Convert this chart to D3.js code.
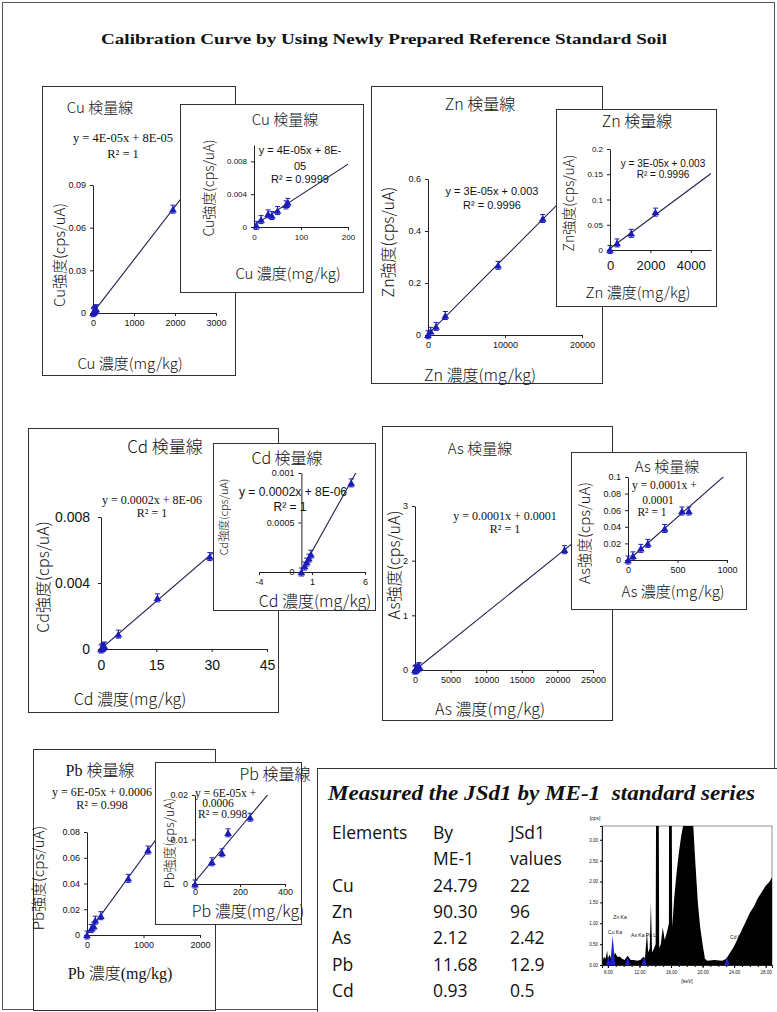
<!DOCTYPE html>
<html>
<head>
<meta charset="utf-8">
<script src="https://cdn.jsdelivr.net/npm/d3@7"></script>
<style>
  body { margin: 0; background: #fff; }
  svg text { fill: #111; }
</style>
</head>
<body>
<svg id="fig" width="777" height="1012"></svg>
<script>
// calibration data (concentration mg/kg, intensity cps/uA)
const cuConc = [5, 15, 30, 38, 50, 68, 72, 1950]
const cuInt = [0.0002, 0.0009, 0.0016, 0.0014, 0.002, 0.0027, 0.003, 0.073]
const znConc = [0, 350, 1050, 2250, 9100, 14900]
const znInt = [0.001, 0.014, 0.033, 0.075, 0.268, 0.448]
const cdConc = [0, 0.3, 0.5, 0.7, 0.9, 4.7, 15.3, 29.5]
const cdInt = [0, 0.00006, 0.0001, 0.00014, 0.00018, 0.0009, 0.0031, 0.0056]
const asConc = [0, 50, 130, 200, 370, 545, 615, 21000]
const asInt = [0, 0.005, 0.014, 0.02, 0.038, 0.059, 0.059, 2.2]
const pbConc = [0, 75, 120, 147, 245, 730, 1080]
const pbInt = [0, 0.005, 0.007, 0.0115, 0.015, 0.044, 0.066]

// JSd1 table
const tableHead = [["Elements", "By", "JSd1"], ["", "ME-1", "values"]]
const tableElements = ["Cu", "Zn", "As", "Pb", "Cd"]
const byME1 = ["24.79", "90.30", "2.12", "11.68", "0.93"]
const jsd1Values = ["22", "96", "2.42", "12.9", "0.5"]

// XRF spectrum envelope (keV, cps)
const specKeV = [7.25, 7.32, 7.5, 7.7, 7.9, 8.0, 8.2, 8.4, 8.6, 8.7, 8.9, 9.2, 9.5, 9.8, 10.1, 10.5, 10.9, 11.3, 11.7, 12.1, 12.5, 12.7, 12.95, 13.1, 13.3, 13.45, 13.6, 13.85, 14.05, 14.1, 14.45, 14.5, 14.7, 14.95, 15.2, 15.5, 15.73, 15.75, 16.1, 16.15, 16.4, 16.7, 17.0, 17.3, 17.6, 18.8, 19.1, 19.4, 19.7, 20.0, 20.3, 20.6, 21.5, 22.5, 23.0, 23.5, 24.0, 24.5, 25.0, 25.5, 26.0, 26.5, 27.0, 27.5, 28.0, 28.5, 28.8]
const specCps = [0.65, 0.1, 0.2, 0.15, 0.35, 0.15, 0.25, 0.15, 0.3, 0.2, 0.3, 0.2, 0.2, 0.15, 0.12, 0.22, 0.12, 0.12, 0.1, 0.12, 0.2, 0.15, 0.8, 0.3, 0.4, 1.5, 0.3, 0.4, 0.5, 3.4, 3.4, 0.4, 0.5, 0.9, 0.6, 0.8, 1.0, 3.4, 3.4, 0.9, 1.6, 2.2, 2.7, 3.1, 3.4, 3.4, 2.4, 1.5, 0.9, 0.5, 0.15, 0.1, 0.12, 0.1, 0.15, 0.3, 0.45, 0.65, 0.85, 1.05, 1.25, 1.4, 1.6, 1.75, 1.9, 2.0, 2.1]
const lineKeV = [8.05, 8.6, 10.5, 12.6, 23.1]
const lineCps = [0.18, 0.7, 0.2, 0.2, 0.2]
const lineNames = ["Cu Ka", "Zn Ka", "As Ka Pb Lb", "", "Cd Ka"]
const specYTicks = [0, 0.5, 1, 1.5, 2, 2.5, 3]
const specXTicks = [8, 12, 16, 20, 24, 28]

const JP = '"Noto Sans CJK JP", "Liberation Sans", sans-serif'
const JPSERIF = '"Liberation Serif", "Noto Sans CJK JP", serif'
const SANS = '"Liberation Sans", Arial, sans-serif'
const SERIF = '"Liberation Serif", "Times New Roman", serif'
const markColor = "#1c1cb8"
const lineColor = "#20204a"

var svg = d3.select("#fig")
var clipCount = 0

svg.append("rect")
    .attr("x", 2.5).attr("y", 2.5)
    .attr("width", 772).attr("height", 1007)
    .attr("fill", "none").attr("stroke", "#555")

svg.append("text")
    .text("Calibration Curve by Using Newly Prepared Reference Standard Soil")
    .attr("x", 384).attr("y", 44)
    .attr("text-anchor", "middle")
    .style("font-family", SERIF).style("font-weight", "bold").style("font-size", "15.5px")
    .attr("textLength", 566).attr("lengthAdjust", "spacingAndGlyphs")

var fitLine = function (xs, ys) {
    const mx = d3.mean(xs), my = d3.mean(ys)
    let sxy = 0, sxx = 0
    xs.forEach(function (v, i) {
        sxy += (v - mx) * (ys[i] - my)
        sxx += (v - mx) * (v - mx)
    })
    const a = sxy / sxx
    return { a: a, b: my - a * mx }
}

var addText = function (g, t, x, y, size, family, rotate, anchor, weight) {
    const tx = g.append("text")
        .text(t)
        .style("font-size", size + "px")
        .style("font-family", family)
        .style("font-weight", weight || 400)
        .attr("text-anchor", anchor || "middle")
        .attr("dominant-baseline", "central")
    if (rotate) {
        tx.attr("transform", "translate(" + x + "," + y + ") rotate(-90)")
    } else {
        tx.attr("x", x).attr("y", y)
    }
    return tx
}

function drawChart(c) {
    const g = svg.append("g")

    g.append("rect")
        .attr("x", c.box[0] + .5).attr("y", c.box[1] + .5)
        .attr("width", c.box[2]).attr("height", c.box[3])
        .attr("fill", "#fff").attr("stroke", "#333")

    const x = d3.scaleLinear().domain(c.xDomain).range([c.plot[0], c.plot[1]])
    const y = d3.scaleLinear().domain(c.yDomain).range([c.plot[2], c.plot[3]])

    const id = "clip" + (clipCount++)
    g.append("clipPath").attr("id", id)
        .append("rect")
        .attr("x", c.plot[0]).attr("y", c.plot[3])
        .attr("width", c.plot[1] - c.plot[0]).attr("height", c.plot[2] - c.plot[3])

    const xa = g.append("g")
        .attr("transform", "translate(0," + y(0) + ")")
        .call(d3.axisBottom(x).tickValues(c.xTicks).tickSizeInner(3).tickSizeOuter(0)
            .tickPadding(c.xPad || 4).tickFormat(function (d) { return String(d) }))
    const ya = g.append("g")
        .attr("transform", "translate(" + x(0) + ",0)")
        .call(d3.axisLeft(y).tickValues(c.yTicks).tickSizeInner(3).tickSizeOuter(0)
            .tickPadding(c.yPad || 4).tickFormat(function (d) { return String(d) }))
    xa.attr("font-size", c.xFont).attr("font-family", SANS)
    ya.attr("font-size", c.yFont).attr("font-family", SANS)
    g.selectAll(".domain, .tick line").attr("stroke", "#222")
    g.selectAll(".tick text").attr("fill", "#111")

    // linear trendline, fitted on the whole series
    const f = fitLine(c.xs, c.ys)
    const x0 = Math.max(0, c.xDomain[0])
    const x1 = c.xDomain[1]
    g.append("line")
        .attr("clip-path", "url(#" + id + ")")
        .attr("x1", x(x0)).attr("y1", y(f.a * x0 + f.b))
        .attr("x2", x(x1)).attr("y2", y(f.a * x1 + f.b))
        .attr("stroke", lineColor).attr("stroke-width", 1.1)

    const pts = c.xs.map(function (v, i) { return [v, c.ys[i]] })
        .filter(function (p) {
            return p[0] >= c.xDomain[0] && p[0] <= c.xDomain[1] && p[1] <= c.yDomain[1]
        })
    const mk = g.append("g")
    pts.forEach(function (p) {
        const px = x(p[0]), py = y(p[1])
        mk.append("path")
            .attr("d", "M" + px + "," + (py - 4) + "V" + (py + 4)
                + "M" + (px - 2.5) + "," + (py - 4) + "H" + (px + 2.5)
                + "M" + (px - 2.5) + "," + (py + 4) + "H" + (px + 2.5))
            .attr("stroke", markColor).attr("stroke-width", 1)
        mk.append("path")
            .attr("d", d3.symbol(d3.symbolTriangle, 26)())
            .attr("transform", "translate(" + px + "," + (py + 1) + ")")
            .attr("fill", markColor)
    })

    const tf = c.labelFamily || JP
    addText(g, c.title[0], c.title[1], c.title[2], c.title[3], tf, false, null, 300)
    addText(g, c.ylab[0], c.ylab[1], c.ylab[2], c.ylab[3], JP, true, null, 300)
    addText(g, c.xlab[0], c.xlab[1], c.xlab[2], c.xlab[3], tf, false, null, 300)
    c.eq.lines.forEach(function (l) {
        addText(g, l[0], l[1], l[2], c.eq.size, c.eq.serif ? SERIF : SANS, false, l[3])
    })
}

// Cu
drawChart({
    box: [42, 86, 193, 289], plot: [93, 216, 313, 185],
    xDomain: [0, 3000], yDomain: [0, 0.09], xTicks: [0, 1000, 2000, 3000], yTicks: [0, 0.03, 0.06, 0.09],
    xFont: 9, yFont: 9, xs: cuConc, ys: cuInt,
    title: ["Cu 検量線", 100, 106, 15], ylab: ["Cu強度(cps/uA)", 58, 255, 15], xlab: ["Cu 濃度(mg/kg)", 130, 362, 15],
    eq: { size: 12.5, serif: true, lines: [["y = 4E-05x  + 8E-05", 123, 138], ["R² = 1", 123, 154]] }
})
drawChart({
    box: [180, 104, 183, 188], plot: [254, 348, 227, 145],
    xDomain: [0, 200], yDomain: [0, 0.01], xTicks: [0, 100, 200], yTicks: [0, 0.004, 0.008],
    xFont: 8, yFont: 8, xs: cuConc, ys: cuInt,
    title: ["Cu 検量線", 285, 118, 15], ylab: ["Cu強度(cps/uA)", 208, 188, 14], xlab: ["Cu 濃度(mg/kg)", 288, 272, 15],
    eq: { size: 11, serif: false, lines: [["y = 4E-05x + 8E-", 300, 150], ["05", 300, 166], ["R² = 0.9999", 300, 179]] }
})

// Zn
drawChart({
    box: [371, 86, 231, 297], plot: [428, 582, 335, 179],
    xDomain: [0, 20000], yDomain: [0, 0.6], xTicks: [0, 10000, 20000], yTicks: [0, 0.2, 0.4, 0.6],
    xFont: 9, yFont: 9, xs: znConc, ys: znInt,
    title: ["Zn 検量線", 480, 103, 16], ylab: ["Zn強度(cps/uA)", 387, 242, 16], xlab: ["Zn 濃度(mg/kg)", 480, 374, 16],
    eq: { size: 11, serif: false, lines: [["y = 3E-05x + 0.003", 492, 191], ["R² = 0.9996", 492, 205]] }
})
drawChart({
    box: [556, 109, 160, 197], plot: [610, 711, 250, 149],
    xDomain: [0, 5000], yDomain: [0, 0.2], xTicks: [0, 2000, 4000], yTicks: [0, 0.05, 0.1, 0.15, 0.2],
    xFont: 13, yFont: 8, xs: znConc, ys: znInt, xPad: 8,
    title: ["Zn 検量線", 637, 120, 16], ylab: ["Zn強度(cps/uA)", 568, 203, 14], xlab: ["Zn 濃度(mg/kg)", 638, 291, 15],
    eq: { size: 10, serif: false, lines: [["y = 3E-05x + 0.003", 663, 163], ["R² = 0.9996", 663, 174]] }
})

// Cd
drawChart({
    box: [28, 428, 250, 284], plot: [101, 267, 649, 517],
    xDomain: [0, 45], yDomain: [0, 0.008], xTicks: [0, 15, 30, 45], yTicks: [0, 0.004, 0.008],
    xFont: 14, yFont: 14, xs: cdConc, ys: cdInt, xPad: 8, yPad: 8,
    title: ["Cd 検量線", 165, 445, 17], ylab: ["Cd強度(cps/uA)", 42, 577, 16], xlab: ["Cd 濃度(mg/kg)", 130, 698, 16],
    eq: { size: 12, serif: true, lines: [["y = 0.0002x + 8E-06", 152, 500], ["R² = 1", 152, 513]] }
})
drawChart({
    box: [213, 443, 162, 167], plot: [259, 365, 572, 473],
    xDomain: [-4, 6], yDomain: [0, 0.001], xTicks: [-4, 1, 6], yTicks: [0, 0.0005, 0.001],
    xFont: 9, yFont: 9, xs: cdConc, ys: cdInt,
    title: ["Cd 検量線", 287, 457, 16], ylab: ["Cd強度(cps/uA)", 223, 517, 11], xlab: ["Cd 濃度(mg/kg)", 315, 600, 16],
    eq: { size: 12, serif: false, lines: [["y = 0.0002x + 8E-06", 293, 492], ["R² = 1", 290, 507]] }
})

// As
drawChart({
    box: [382, 426, 230, 294], plot: [415, 593, 670, 506],
    xDomain: [0, 25000], yDomain: [0, 3], xTicks: [0, 5000, 10000, 15000, 20000, 25000], yTicks: [0, 1, 2, 3],
    xFont: 9, yFont: 9, xs: asConc, ys: asInt,
    title: ["As 検量線", 480, 447, 15], ylab: ["As強度(cps/uA)", 393, 565, 16], xlab: ["As 濃度(mg/kg)", 490, 708, 16],
    eq: { size: 12, serif: true, lines: [["y = 0.0001x + 0.0001", 505, 515.5], ["R² = 1", 505, 529]] }
})
drawChart({
    box: [571, 452, 175, 157], plot: [628, 727, 560, 477],
    xDomain: [0, 1000], yDomain: [0, 0.1], xTicks: [0, 500, 1000], yTicks: [0, 0.02, 0.04, 0.06, 0.08, 0.1],
    xFont: 9, yFont: 9, xs: asConc, ys: asInt,
    title: ["As 検量線", 667, 465, 15], ylab: ["As強度(cps/uA)", 583, 533, 15], xlab: ["As 濃度(mg/kg)", 673, 590, 15],
    eq: { size: 11.5, serif: true, lines: [["y = 0.0001x +", 632, 485, "start"], ["0.0001", 658, 500], ["R² = 1", 652, 512]] }
})

// Pb
drawChart({
    box: [33, 749, 182, 261], plot: [87, 200, 935, 832],
    xDomain: [0, 2000], yDomain: [0, 0.08], xTicks: [0, 1000, 2000], yTicks: [0, 0.02, 0.04, 0.06, 0.08],
    xFont: 9, yFont: 9, xs: pbConc, ys: pbInt, labelFamily: JPSERIF,
    title: ["Pb 検量線", 100, 770, 16], ylab: ["Pb強度(cps/uA)", 37, 878, 15], xlab: ["Pb 濃度(mg/kg)", 120, 973, 16],
    eq: { size: 12, serif: true, lines: [["y = 6E-05x + 0.0006", 102, 792], ["R² = 0.998", 102, 805]] }
})
drawChart({
    box: [155, 762, 146, 162], plot: [195, 285, 884, 795],
    xDomain: [0, 400], yDomain: [0, 0.02], xTicks: [0, 200, 400], yTicks: [0, 0.01, 0.02],
    xFont: 9, yFont: 9, xs: pbConc, ys: pbInt, xPad: 2,
    title: ["Pb 検量線", 275, 773, 16], ylab: ["Pb強度(cps/uA)", 168, 843, 13], xlab: ["Pb 濃度(mg/kg)", 248, 910, 16],
    eq: { size: 11.5, serif: true, lines: [["y = 6E-05x +", 195, 793, "start"], ["0.0006", 218, 803], ["R² = 0.998", 198, 814, "start"]] }
})

// table of JSd1 results
var tg = svg.append("g")
tg.append("rect")
    .attr("x", 317.5).attr("y", 768.5).attr("width", 470).attr("height", 250)
    .attr("fill", "#fff").attr("stroke", "#333")
tg.append("text")
    .text("Measured the JSd1 by ME-1\u00a0 standard series")
    .attr("x", 328).attr("y", 800)
    .style("font-family", SERIF).style("font-weight", "bold").style("font-style", "italic")
    .style("font-size", "21px")
    .attr("textLength", 427).attr("lengthAdjust", "spacingAndGlyphs")

const colX = [332, 433, 510]
const TFONT = '"Open Sans", Lato, sans-serif'
tableHead.concat(tableElements.map(function (e, i) { return [e, byME1[i], jsd1Values[i]] }))
    .forEach(function (row, r) {
        row.forEach(function (cell, k) {
            tg.append("text")
                .text(cell)
                .attr("x", colX[k]).attr("y", 839 + r * 26.3)
                .style("font-family", TFONT).style("font-size", "17.5px")
        })
    })

// XRF spectrum
var sg = svg.append("g")
const sx = d3.scaleLinear().domain([7.25, 28.8]).range([602, 772])
const sy = d3.scaleLinear().domain([0, 3.33]).range([965, 826])
sg.append("clipPath").attr("id", "specclip")
    .append("rect").attr("x", 602).attr("y", 826).attr("width", 170).attr("height", 139)
sg.append("rect")
    .attr("x", 602).attr("y", 826).attr("width", 170).attr("height", 139)
    .attr("fill", "#fff").attr("stroke", "#777").attr("stroke-width", .8)
sg.append("path")
    .datum(specKeV.map(function (k, i) { return [k, specCps[i]] }))
    .attr("clip-path", "url(#specclip)")
    .attr("d", d3.area().x(function (d) { return sx(d[0]) }).y0(sy(0)).y1(function (d) { return sy(d[1]) }))
    .attr("fill", "#000")
lineKeV.forEach(function (k, i) {
    sg.append("path")
        .attr("d", "M" + (sx(k) - 2.5) + "," + sy(0) + "L" + sx(k) + "," + sy(lineCps[i]) + "L" + (sx(k) + 2.5) + "," + sy(0) + "Z")
        .attr("fill", "#2020d0")
})
sg.append("g")
    .attr("transform", "translate(602,0)")
    .call(d3.axisLeft(sy).tickValues(specYTicks).tickSize(2).tickPadding(2)
        .tickFormat(function (d) { return d.toFixed(2) }))
    .attr("font-size", 4.5).attr("font-family", SANS)
sg.append("g")
    .attr("transform", "translate(0,965)")
    .call(d3.axisBottom(sx).tickValues(d3.range(8, 29, 1)).tickSize(2).tickFormat(""))
    .attr("font-size", 4.5)
sg.append("g")
    .attr("transform", "translate(0,965)")
    .call(d3.axisBottom(sx).tickValues(specXTicks).tickSize(3).tickPadding(3)
        .tickFormat(function (d) { return d.toFixed(2) }))
    .attr("font-size", 4.5).attr("font-family", SANS)
sg.selectAll(".domain").attr("stroke", "#222")
addText(sg, "[cps]", 595, 818, 5, SANS)
addText(sg, "[keV]", 687, 981, 5, SANS)
const namePos = [[615, 932], [620, 917], [645, 935], [0, 0], [737, 937]]
lineNames.forEach(function (n, i) {
    if (n) addText(sg, n, namePos[i][0], namePos[i][1], 5, SANS)
})
</script>
</body>
</html>
